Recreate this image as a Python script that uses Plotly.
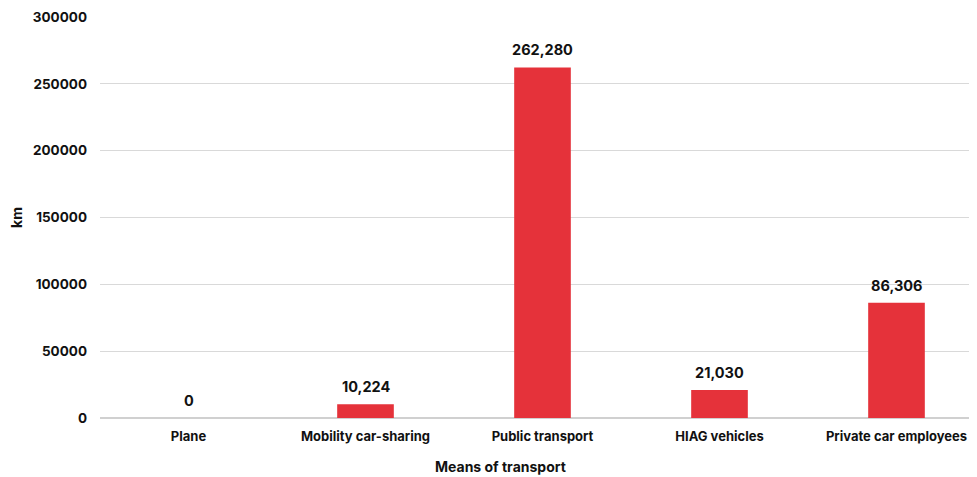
import plotly.graph_objects as go

categories = ["Plane", "Mobility car-sharing", "Public transport", "HIAG vehicles", "Private car employees"]
km_values = [0, 10224, 262280, 21030, 86306]
y_ticks = [0, 50000, 100000, 150000, 200000, 250000, 300000]

font_family = "Inter, Liberation Sans, Arial, sans-serif"

fig = go.Figure()
fig.add_trace(go.Bar(
    x=categories,
    y=km_values,
    marker=dict(color="#e5323a", line=dict(width=0)),
))

# value labels above the bars
for cat, val in zip(categories, km_values):
    fig.add_annotation(
        x=cat, y=val, text=f"{val:,}",
        showarrow=False, yanchor="bottom", yshift=7,
        font=dict(family=font_family, size=14.5, color="#111111", weight="bold"),
    )

# x axis title sits left of the plot centre in the original, so place it by hand
fig.add_annotation(
    text="Means of transport", xref="paper", yref="paper",
    x=0.453, y=0, xanchor="center", yanchor="middle", yshift=-48,
    showarrow=False,
    font=dict(family=font_family, size=14, color="#111111", weight="bold"),
)

# page body adds an 8px margin, so the figure margins are shifted to compensate;
# the plot area runs past the right edge of the window like in the reference
fig.update_layout(
    width=977,
    height=477,
    margin=dict(l=92, r=0, t=9, b=67),
    plot_bgcolor="white",
    paper_bgcolor="white",
    bargap=0.68,
    showlegend=False,
    font=dict(family=font_family, size=14, color="#111111", weight="bold"),
    xaxis=dict(
        tickfont=dict(family=font_family, size=13, weight="bold"),
        showline=True,
        linecolor="#d0d0d0",
        ticks="",
        ticklabelstandoff=6,
        automargin=False,
    ),
    yaxis=dict(
        title=dict(text="km", standoff=62,
                   font=dict(family=font_family, size=14, weight="bold")),
        range=[0, 300000],
        tickvals=y_ticks,
        ticktext=[str(t) for t in y_ticks],
        tickfont=dict(family=font_family, size=13.5, weight="bold"),
        gridcolor="#d9d9d9",
        zeroline=True,
        zerolinecolor="#d0d0d0",
        ticklabelstandoff=12,
        automargin=False,
    ),
)

fig.write_html("out.html")
